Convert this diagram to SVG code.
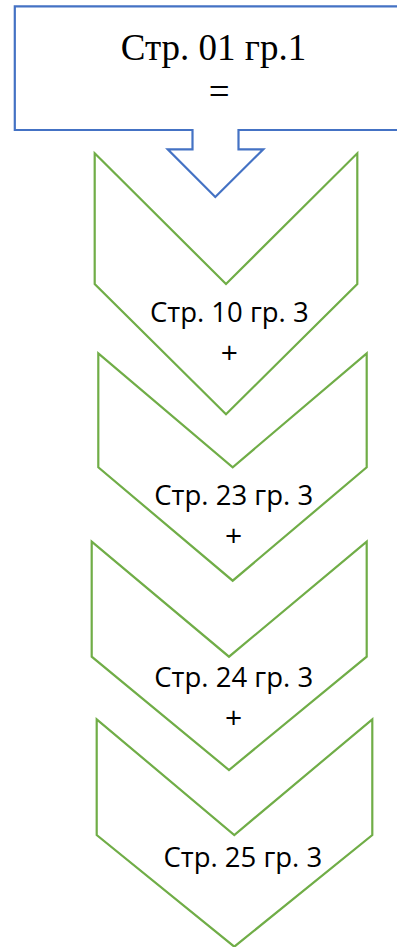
<svg xmlns="http://www.w3.org/2000/svg" width="397" height="947" viewBox="0 0 397 947">
<style>
.blue{fill:none;stroke:#4472C4;stroke-width:2.2;stroke-linejoin:miter}
.chev{fill:none;stroke:#70AD47;stroke-width:2.2;stroke-linejoin:miter}
.serif{font-family:"Liberation Serif","Times New Roman",serif;font-size:37px;fill:#000;text-anchor:middle}
.sans{font-family:"Open Sans","Noto Sans",sans-serif;font-size:27.5px;fill:#000;text-anchor:middle}
.plus{font-family:"Open Sans","Noto Sans",sans-serif;font-size:30px;fill:#000;text-anchor:middle}
</style>
<rect width="397" height="947" fill="#fff"/>
<g id="start">
<path class="blue" d="M14.8,6.3 H420 V130 H238.5 V149.3 H263.3 L215.3,197 L167.7,149.3 H192.5 V130 H14.8 Z"/>
<text class="serif" x="213.5" y="60">Стр. 01 гр.1</text>
<text class="serif" x="219.3" y="104">=</text>
</g>
<g id="connectors"></g>
<g id="step1">
<path class="chev" d="M94.7,153.3 L226,284 L357.3,153.3 V284 L226,414.3 L94.7,284 Z"/>
<text class="sans" x="229.3" y="321.7">Стр. 10 гр. 3</text>
<text class="plus" x="229.3" y="362.8">+</text>
</g>
<g id="step2">
<path class="chev" d="M98.3,353.3 L232.7,467.3 L366.7,353.3 V467.3 L232.7,580.7 L98.3,467.3 Z"/>
<text class="sans" x="233.7" y="505">Стр. 23 гр. 3</text>
<text class="plus" x="233.7" y="545.8">+</text>
</g>
<g id="step3">
<path class="chev" d="M91.7,541.7 L229,656.7 L366.7,541.7 V656.7 L229,770 L91.7,656.7 Z"/>
<text class="sans" x="233.7" y="686.7">Стр. 24 гр. 3</text>
<text class="plus" x="233.7" y="728.3">+</text>
</g>
<g id="step4">
<path class="chev" d="M96.7,719.3 L234.3,835 L372.3,719.3 V835 L234.3,946.7 L96.7,835 Z"/>
<text class="sans" x="242.8" y="866.7">Стр. 25 гр. 3</text>
</g>
</svg>
